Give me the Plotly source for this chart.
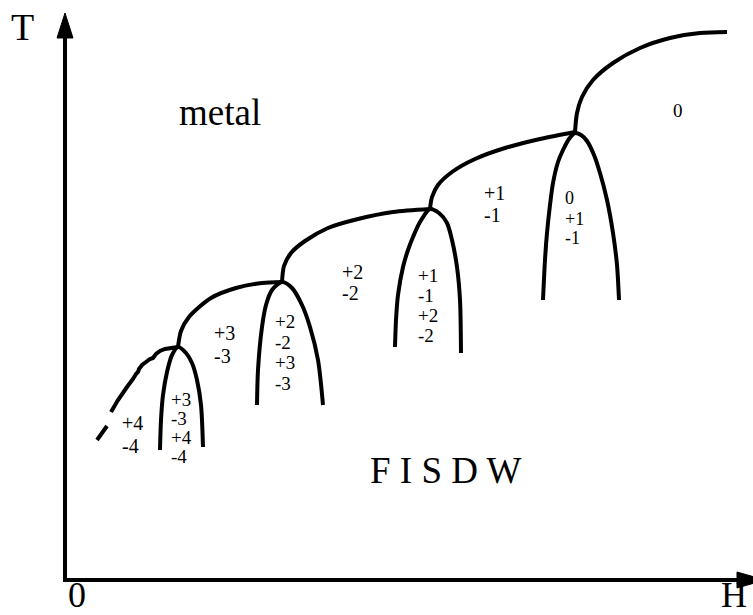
import plotly.graph_objects as go

# ---- data (H, T in schematic units; origin at axis corner) ----
top_H = [510, 512, 517, 528, 548, 575, 605, 635, 662]
top_T = [448, 467, 483, 500, 517, 532, 542, 547, 548]

arcA_H = [365, 367, 373, 387, 410, 440, 475, 510]
arcA_T = [371, 383, 395, 408, 421, 432, 441, 448]

arcB_H = [217, 219, 226, 240, 263, 293, 328, 365]
arcB_T = [298, 314, 327, 339, 352, 361, 368, 371]

arcC_H = [113, 116, 124, 146, 171, 197, 217]
arcC_T = [233, 249, 263, 282, 292, 297, 298]

wavy_H = [113, 106, 100, 95, 91, 88, 85, 81, 77, 74, 73, 71, 68, 62, 53, 46]
wavy_T = [233, 232, 231, 229, 226, 222, 221, 218, 215, 211, 208, 206, 201, 193, 180, 168]

dash_H = [42, 32]
dash_T = [154, 140]

arch1_H = [478, 480, 482, 485, 488, 493, 498, 504, 510, 516, 522, 529, 535, 542, 548, 552, 554]
arch1_T = [280, 320, 347, 375, 397, 418, 430, 441, 447, 445, 439, 425, 407, 380, 347, 315, 280]

arch2_H = [330, 331, 333, 338, 343, 348, 355, 365, 374, 382, 387, 392, 395, 396]
arch2_T = [233, 260, 285, 313, 330, 343, 358, 371, 367, 357, 340, 313, 280, 227]

arch3_H = [192, 193, 197, 201, 207, 217, 227, 237, 245, 253, 258]
arch3_T = [175, 210, 253, 275, 290, 298, 292, 275, 253, 220, 175]

arch4_H = [95, 96, 98, 102, 107, 113, 121, 127, 132, 136, 138]
arch4_T = [130, 160, 185, 208, 225, 233, 227, 217, 200, 175, 133]

# labels: (text, H, T)
gap_labels = [("+4", 55, 157), ("-4", 55, 134),
              ("+3", 147, 247), ("-3", 147, 224),
              ("+2", 275, 308), ("-2", 275, 287),
              ("+1", 417, 387), ("-1", 417, 365)]
inner_labels = [("+3", 104, 181), ("-3", 104, 162), ("+4", 104, 143), ("-4", 104, 124),
                ("+2", 208, 259), ("-2", 208, 238), ("+3", 208, 218), ("-3", 208, 197),
                ("+1", 351, 305), ("-1", 351, 285), ("+2", 351, 265), ("-2", 351, 245)]
arch1_labels = [("0", 498, 382), ("+1", 498, 361), ("-1", 498, 342)]

FONT = "Liberation Serif"
LW = 4

fig = go.Figure()

def curve(h, t, shape="spline"):
    fig.add_trace(go.Scatter(x=h, y=t, mode="lines",
                             line=dict(color="black", width=LW, shape=shape,
                                       smoothing=0.8 if shape == "spline" else None),
                             hoverinfo="skip", showlegend=False))

for h, t in [(top_H, top_T), (arcA_H, arcA_T), (arcB_H, arcB_T), (arcC_H, arcC_T),
             (arch1_H, arch1_T), (arch2_H, arch2_T), (arch3_H, arch3_T), (arch4_H, arch4_T)]:
    curve(h, t)
curve(wavy_H, wavy_T, "linear")
curve(dash_H, dash_T, "linear")

# axes with arrowheads
shapes = [
    dict(type="line", x0=0, y0=-2, x1=0, y1=545, line=dict(color="black", width=LW), layer="above"),
    dict(type="line", x0=-2, y0=0, x1=675, y1=0, line=dict(color="black", width=LW), layer="above"),
    dict(type="path", path="M 0 567 L -8 542 L 8 542 Z", fillcolor="black",
         line=dict(color="black", width=1)),
    dict(type="path", path="M 700 0 L 672 8 L 672 -8 Z", fillcolor="black",
         line=dict(color="black", width=1)),
]

ann = []
def text(s, x, y, size, xanchor="center"):
    ann.append(dict(text=s, x=x, y=y, xref="x", yref="y", showarrow=False,
                    xanchor=xanchor, yanchor="middle",
                    font=dict(family=FONT, size=size, color="black")))

for s, x, y in gap_labels:
    text(s, x, y, 20, "left")
for s, x, y in inner_labels:
    text(s, x, y, 19, "left")
for s, x, y in arch1_labels:
    text(s, x, y, 18, "left")
text("0", 613, 470, 19)
text("metal", 155, 468, 37)
text("F I S D W", 381, 110, 37)
text("T", -43, 553, 38)
text("0", 12, -15, 36)
text("H", 669, -15, 36)

fig.update_layout(
    width=753, height=615,
    margin=dict(l=0, r=0, t=0, b=0),
    paper_bgcolor="white", plot_bgcolor="white",
    font=dict(family=FONT),
    xaxis=dict(range=[-65, 688], visible=False, fixedrange=True),
    yaxis=dict(range=[-35, 580], visible=False, fixedrange=True),
    shapes=shapes, annotations=ann, showlegend=False,
)

fig.write_html("out.html", config={"displayModeBar": False},
               post_script="document.body.style.margin='0';document.body.style.overflow='hidden';")
